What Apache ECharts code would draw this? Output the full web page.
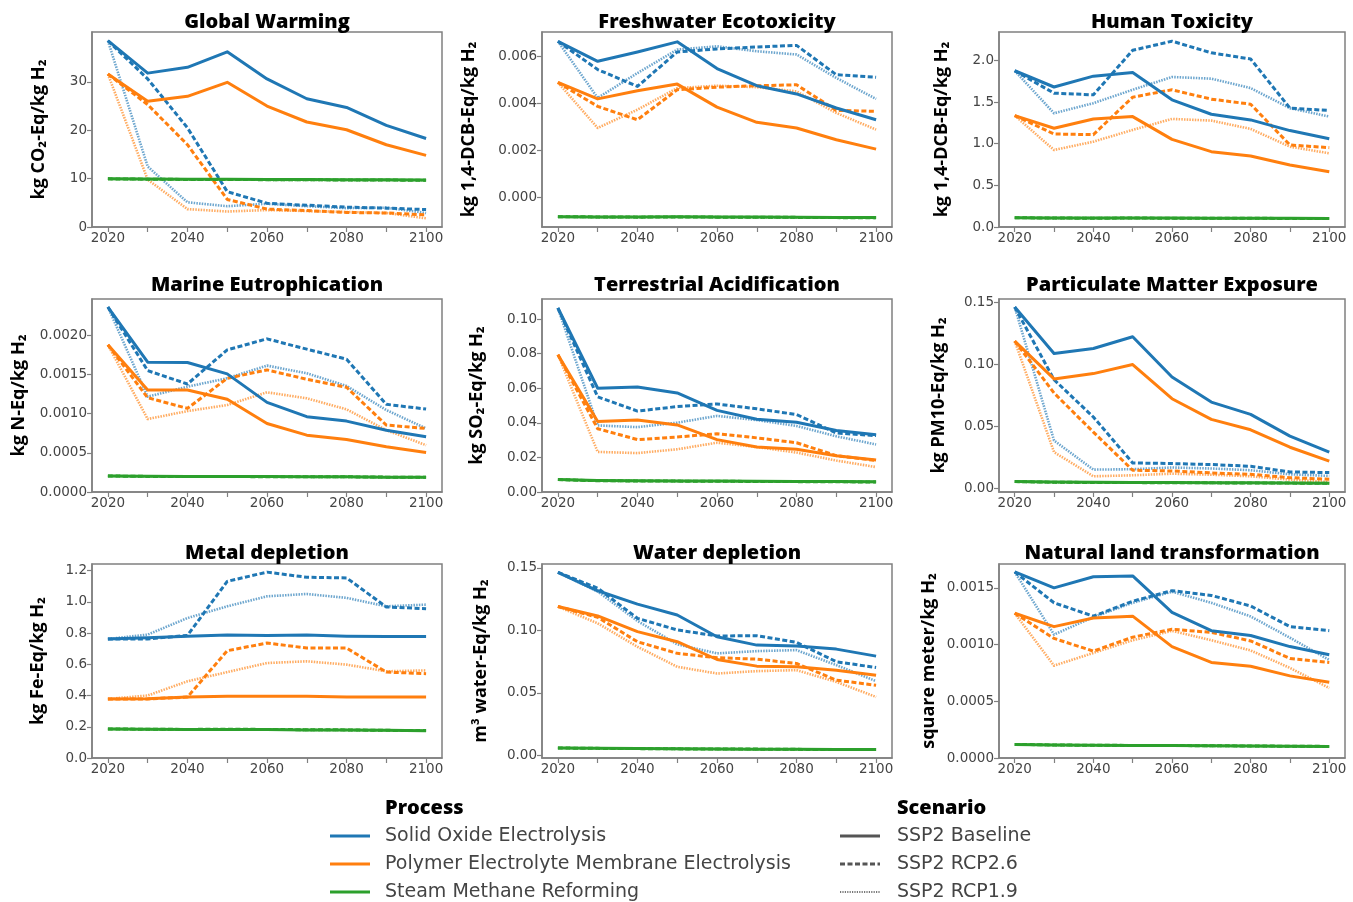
<!DOCTYPE html>
<html><head><meta charset="utf-8">
<script src="https://cdn.jsdelivr.net/npm/echarts@6/dist/echarts.min.js"></script>
<style>html,body{margin:0;padding:0;background:#fff}#c{width:1353px;height:902px}</style>
</head><body><div id="c"></div>
<script>
const years = [2020, 2030, 2040, 2050, 2060, 2070, 2080, 2090, 2100];
const xTicks = [2020, 2030, 2040, 2050, 2060, 2070, 2080, 2090, 2100];
const xLabels = [2020, 2040, 2060, 2080, 2100];
const processes = ['Solid Oxide Electrolysis', 'Polymer Electrolyte Membrane Electrolysis', 'Steam Methane Reforming'];
const scenarios = ['SSP2 Baseline', 'SSP2 RCP2.6', 'SSP2 RCP1.9'];
const titles = ['Global Warming', 'Freshwater Ecotoxicity', 'Human Toxicity', 'Marine Eutrophication', 'Terrestrial Acidification', 'Particulate Matter Exposure', 'Metal depletion', 'Water depletion', 'Natural land transformation'];
const yNames = ['kg CO₂-Eq/kg H₂', 'kg 1,4-DCB-Eq/kg H₂', 'kg 1,4-DCB-Eq/kg H₂', 'kg N-Eq/kg H₂', 'kg SO₂-Eq/kg H₂', 'kg PM10-Eq/kg H₂', 'kg Fe-Eq/kg H₂', 'm³ water-Eq/kg H₂', 'square meter/kg H₂'];

// Global Warming
const gw_SOE_base = [38.5, 31.8, 33.0, 36.2, 30.6, 26.5, 24.7, 21.0, 18.3];
const gw_SOE_r26 = [38.5, 30.6, 20.5, 7.3, 4.9, 4.5, 4.1, 3.9, 3.6];
const gw_SOE_r19 = [38.5, 12.5, 5.1, 4.3, 4.8, 4.3, 3.9, 4.0, 2.9];
const gw_PEM_base = [31.6, 26.0, 27.0, 29.9, 25.0, 21.7, 20.1, 17.0, 14.8];
const gw_PEM_r26 = [31.6, 25.3, 17.0, 5.7, 3.7, 3.4, 3.0, 2.9, 2.5];
const gw_PEM_r19 = [31.6, 9.8, 3.7, 3.2, 3.5, 3.3, 3.1, 2.9, 1.8];
const gw_SMR_base = [9.95, 9.9, 9.85, 9.85, 9.8, 9.8, 9.75, 9.75, 9.7];
const gw_SMR_r26 = [9.95, 9.88, 9.83, 9.82, 9.78, 9.76, 9.72, 9.7, 9.66];
const gw_SMR_r19 = [9.95, 9.85, 9.8, 9.78, 9.75, 9.73, 9.7, 9.68, 9.64];
// Freshwater Ecotoxicity
const fw_SOE_base = [0.00665, 0.0058, 0.0062, 0.00663, 0.00549, 0.00476, 0.00441, 0.00381, 0.00331];
const fw_SOE_r26 = [0.00665, 0.00545, 0.00473, 0.0062, 0.00633, 0.00641, 0.00648, 0.00523, 0.00512];
const fw_SOE_r19 = [0.00665, 0.00424, 0.0053, 0.0063, 0.00644, 0.00623, 0.00609, 0.00509, 0.0042];
const fw_PEM_base = [0.0049, 0.0042, 0.00455, 0.00483, 0.00385, 0.0032, 0.00296, 0.00246, 0.00206];
const fw_PEM_r26 = [0.0049, 0.00388, 0.00331, 0.00459, 0.0047, 0.00476, 0.0048, 0.00371, 0.00367];
const fw_PEM_r19 = [0.0049, 0.00296, 0.00374, 0.00466, 0.00476, 0.0047, 0.00452, 0.0036, 0.00289];
const fw_SMR_base = [-0.00082, -0.00083, -0.00083, -0.00082, -0.00083, -0.00083, -0.00084, -0.00085, -0.00086];
const fw_SMR_r26 = [-0.00082, -0.00083, -0.00084, -0.00083, -0.00084, -0.00084, -0.00085, -0.00086, -0.00087];
const fw_SMR_r19 = [-0.00082, -0.00084, -0.00084, -0.00083, -0.00084, -0.00085, -0.00085, -0.00086, -0.00087];
// Human Toxicity
const ht_SOE_base = [1.875, 1.68, 1.81, 1.855, 1.526, 1.353, 1.285, 1.157, 1.06];
const ht_SOE_r26 = [1.875, 1.606, 1.586, 2.12, 2.23, 2.09, 2.016, 1.426, 1.398];
const ht_SOE_r19 = [1.875, 1.365, 1.486, 1.647, 1.80, 1.78, 1.667, 1.426, 1.325];
const ht_PEM_base = [1.337, 1.185, 1.297, 1.325, 1.052, 0.904, 0.851, 0.743, 0.663];
const ht_PEM_r26 = [1.337, 1.116, 1.108, 1.558, 1.647, 1.534, 1.474, 0.984, 0.952];
const ht_PEM_r19 = [1.337, 0.924, 1.024, 1.165, 1.297, 1.277, 1.177, 0.964, 0.884];
const ht_SMR_base = [0.112, 0.108, 0.107, 0.108, 0.107, 0.106, 0.105, 0.104, 0.103];
const ht_SMR_r26 = [0.112, 0.107, 0.106, 0.107, 0.106, 0.105, 0.104, 0.103, 0.102];
const ht_SMR_r19 = [0.112, 0.106, 0.106, 0.106, 0.105, 0.105, 0.104, 0.103, 0.102];
// Marine Eutrophication
const me_SOE_base = [0.002363, 0.001658, 0.001654, 0.001509, 0.001145, 0.000962, 0.000906, 0.00079, 0.000705];
const me_SOE_r26 = [0.002363, 0.001551, 0.00138, 0.001816, 0.001957, 0.001825, 0.001697, 0.00112, 0.00106];
const me_SOE_r19 = [0.002363, 0.001218, 0.001346, 0.001453, 0.001615, 0.001517, 0.001355, 0.001047, 0.000812];
const me_PEM_base = [0.00188, 0.001303, 0.001303, 0.001184, 0.000876, 0.000726, 0.000671, 0.000577, 0.000504];
const me_PEM_r26 = [0.00188, 0.001205, 0.001068, 0.001453, 0.00156, 0.00144, 0.001338, 0.000855, 0.000812];
const me_PEM_r19 = [0.00188, 0.000932, 0.001034, 0.001111, 0.001274, 0.001197, 0.001056, 0.00079, 0.000598];
const me_SMR_base = [0.000205, 0.0002, 0.000198, 0.000197, 0.000197, 0.000195, 0.000195, 0.00019, 0.000188];
const me_SMR_r26 = [0.000205, 0.000199, 0.000197, 0.000197, 0.000196, 0.000195, 0.000194, 0.00019, 0.000187];
const me_SMR_r19 = [0.000205, 0.000198, 0.000197, 0.000196, 0.000196, 0.000194, 0.000193, 0.000189, 0.000187];
// Terrestrial Acidification
const ta_SOE_base = [0.1064, 0.060, 0.0607, 0.0573, 0.0472, 0.0421, 0.0403, 0.0356, 0.0331];
const ta_SOE_r26 = [0.1064, 0.055, 0.0468, 0.0494, 0.0509, 0.0481, 0.0448, 0.0341, 0.0326];
const ta_SOE_r19 = [0.1064, 0.0385, 0.0375, 0.0401, 0.044, 0.0416, 0.0382, 0.0322, 0.0275];
const ta_PEM_base = [0.0794, 0.0408, 0.0416, 0.0388, 0.0303, 0.026, 0.0247, 0.021, 0.0185];
const ta_PEM_r26 = [0.0794, 0.0366, 0.0303, 0.0318, 0.0337, 0.0313, 0.0285, 0.021, 0.0182];
const ta_PEM_r19 = [0.0794, 0.0232, 0.0225, 0.0247, 0.0285, 0.026, 0.0228, 0.0182, 0.0144];
const ta_SMR_base = [0.0072, 0.0066, 0.0065, 0.0064, 0.0063, 0.0062, 0.0061, 0.006, 0.0059];
const ta_SMR_r26 = [0.0072, 0.0065, 0.0064, 0.0063, 0.0062, 0.0061, 0.006, 0.0059, 0.0058];
const ta_SMR_r19 = [0.0072, 0.0065, 0.0064, 0.0063, 0.0062, 0.0061, 0.006, 0.0059, 0.0058];
// Particulate Matter Exposure
const pm_SOE_base = [0.1465, 0.109, 0.113, 0.1225, 0.090, 0.0697, 0.0597, 0.0422, 0.0292];
const pm_SOE_r26 = [0.1465, 0.0878, 0.0576, 0.0205, 0.020, 0.0192, 0.0178, 0.0132, 0.0127];
const pm_SOE_r19 = [0.1465, 0.0386, 0.0151, 0.0154, 0.0168, 0.016, 0.0146, 0.0113, 0.010];
const pm_PEM_base = [0.119, 0.0884, 0.0927, 0.100, 0.0724, 0.0557, 0.0473, 0.0332, 0.0219];
const pm_PEM_r26 = [0.119, 0.077, 0.0454, 0.0146, 0.014, 0.0124, 0.0113, 0.0086, 0.0073];
const pm_PEM_r19 = [0.119, 0.0292, 0.0097, 0.0105, 0.0118, 0.011, 0.0097, 0.007, 0.0051];
const pm_SMR_base = [0.0054, 0.005, 0.0048, 0.0047, 0.0046, 0.0045, 0.0044, 0.0042, 0.0041];
const pm_SMR_r26 = [0.0054, 0.0049, 0.0047, 0.0046, 0.0045, 0.0044, 0.0043, 0.0042, 0.004];
const pm_SMR_r19 = [0.0054, 0.0048, 0.0047, 0.0046, 0.0045, 0.0044, 0.0043, 0.0041, 0.004];
// Metal depletion
const md_SOE_base = [0.762, 0.77, 0.78, 0.787, 0.785, 0.787, 0.78, 0.778, 0.778];
const md_SOE_r26 = [0.762, 0.762, 0.785, 1.131, 1.19, 1.157, 1.153, 0.967, 0.956];
const md_SOE_r19 = [0.762, 0.79, 0.896, 0.971, 1.035, 1.05, 1.025, 0.971, 0.982];
const md_PEM_base = [0.378, 0.38, 0.39, 0.395, 0.395, 0.396, 0.39, 0.39, 0.39];
const md_PEM_r26 = [0.378, 0.378, 0.39, 0.687, 0.736, 0.704, 0.704, 0.55, 0.54];
const md_PEM_r19 = [0.378, 0.40, 0.491, 0.55, 0.608, 0.619, 0.598, 0.555, 0.561];
const md_SMR_base = [0.186, 0.184, 0.183, 0.183, 0.182, 0.18, 0.179, 0.177, 0.175];
const md_SMR_r26 = [0.186, 0.184, 0.183, 0.184, 0.183, 0.181, 0.18, 0.177, 0.176];
const md_SMR_r19 = [0.186, 0.183, 0.182, 0.183, 0.182, 0.18, 0.179, 0.176, 0.175];
// Water depletion
const wd_SOE_base = [0.1463, 0.1316, 0.1209, 0.1123, 0.0949, 0.0882, 0.0874, 0.085, 0.0794];
const wd_SOE_r26 = [0.1463, 0.1337, 0.1096, 0.1003, 0.0955, 0.0957, 0.0904, 0.0749, 0.0703];
const wd_SOE_r19 = [0.1463, 0.131, 0.1075, 0.0888, 0.0816, 0.0834, 0.0842, 0.0722, 0.0594];
const wd_PEM_base = [0.119, 0.1115, 0.099, 0.0909, 0.0767, 0.0714, 0.0709, 0.0682, 0.0642];
const wd_PEM_r26 = [0.119, 0.1104, 0.0909, 0.0816, 0.0781, 0.077, 0.0735, 0.0602, 0.0561];
const wd_PEM_r19 = [0.119, 0.1056, 0.0869, 0.0709, 0.0655, 0.0674, 0.0682, 0.0588, 0.0468];
const wd_SMR_base = [0.006, 0.0058, 0.0055, 0.0054, 0.0052, 0.005, 0.0049, 0.0048, 0.0047];
const wd_SMR_r26 = [0.006, 0.0057, 0.0055, 0.0053, 0.0052, 0.0051, 0.0049, 0.0048, 0.0047];
const wd_SMR_r19 = [0.006, 0.0057, 0.0054, 0.0053, 0.0051, 0.005, 0.0049, 0.0048, 0.0046];
// Natural land transformation
const nl_SOE_base = [0.00164, 0.0015, 0.001598, 0.001605, 0.001284, 0.001122, 0.00108, 0.000982, 0.00091];
const nl_SOE_r26 = [0.00164, 0.001368, 0.00125, 0.001382, 0.001475, 0.001433, 0.00134, 0.001158, 0.001122];
const nl_SOE_r19 = [0.00164, 0.001088, 0.001242, 0.001368, 0.001466, 0.001368, 0.001248, 0.00106, 0.000864];
const nl_PEM_base = [0.001276, 0.001158, 0.001234, 0.00125, 0.000982, 0.000842, 0.000808, 0.000724, 0.000668];
const nl_PEM_r26 = [0.001276, 0.001054, 0.000942, 0.001065, 0.001135, 0.001107, 0.001032, 0.000878, 0.000842];
const nl_PEM_r19 = [0.001276, 0.000814, 0.000926, 0.001038, 0.001121, 0.001038, 0.000948, 0.000794, 0.000617];
const nl_SMR_base = [0.00012, 0.000115, 0.000113, 0.000111, 0.00011, 0.000108, 0.000106, 0.000104, 0.000102];
const nl_SMR_r26 = [0.00012, 0.000115, 0.000112, 0.000111, 0.00011, 0.000108, 0.000106, 0.000104, 0.000102];
const nl_SMR_r19 = [0.00012, 0.000114, 0.000112, 0.00011, 0.000109, 0.000107, 0.000105, 0.000103, 0.000101];

// y-axis tick values and limits per panel
const yTicks = [
  [0, 10, 20, 30],
  [0, 0.002, 0.004, 0.006],
  [0, 0.5, 1.0, 1.5, 2.0],
  [0, 0.0005, 0.001, 0.0015, 0.002],
  [0, 0.02, 0.04, 0.06, 0.08, 0.10],
  [0, 0.05, 0.10, 0.15],
  [0, 0.2, 0.4, 0.6, 0.8, 1.0, 1.2],
  [0, 0.05, 0.10, 0.15],
  [0, 0.0005, 0.001, 0.0015]
];
const yDecimals = [0, 3, 1, 4, 2, 2, 1, 2, 4];
const yMin = [0, -0.00126, 0, 0, 0, -0.003, 0, -0.002, 0];
const yMax = [40.3, 0.00705, 2.34, 0.002466, 0.1116, 0.153, 1.242, 0.153, 0.00171];

const panelData = [
  [[gw_SOE_base, gw_SOE_r26, gw_SOE_r19], [gw_PEM_base, gw_PEM_r26, gw_PEM_r19], [gw_SMR_base, gw_SMR_r26, gw_SMR_r19]],
  [[fw_SOE_base, fw_SOE_r26, fw_SOE_r19], [fw_PEM_base, fw_PEM_r26, fw_PEM_r19], [fw_SMR_base, fw_SMR_r26, fw_SMR_r19]],
  [[ht_SOE_base, ht_SOE_r26, ht_SOE_r19], [ht_PEM_base, ht_PEM_r26, ht_PEM_r19], [ht_SMR_base, ht_SMR_r26, ht_SMR_r19]],
  [[me_SOE_base, me_SOE_r26, me_SOE_r19], [me_PEM_base, me_PEM_r26, me_PEM_r19], [me_SMR_base, me_SMR_r26, me_SMR_r19]],
  [[ta_SOE_base, ta_SOE_r26, ta_SOE_r19], [ta_PEM_base, ta_PEM_r26, ta_PEM_r19], [ta_SMR_base, ta_SMR_r26, ta_SMR_r19]],
  [[pm_SOE_base, pm_SOE_r26, pm_SOE_r19], [pm_PEM_base, pm_PEM_r26, pm_PEM_r19], [pm_SMR_base, pm_SMR_r26, pm_SMR_r19]],
  [[md_SOE_base, md_SOE_r26, md_SOE_r19], [md_PEM_base, md_PEM_r26, md_PEM_r19], [md_SMR_base, md_SMR_r26, md_SMR_r19]],
  [[wd_SOE_base, wd_SOE_r26, wd_SOE_r19], [wd_PEM_base, wd_PEM_r26, wd_PEM_r19], [wd_SMR_base, wd_SMR_r26, wd_SMR_r19]],
  [[nl_SOE_base, nl_SOE_r26, nl_SOE_r19], [nl_PEM_base, nl_PEM_r26, nl_PEM_r19], [nl_SMR_base, nl_SMR_r26, nl_SMR_r19]]
];

// ---- layout / style ----
const colors = ['#1f77b4', '#ff7f0e', '#2ca02c'];
const colLeft = [92, 542, 999], colWidth = [350, 350, 346];
const rowTop = [32, 299, 564], rowHeight = [195, 193, 194];
const titleTop = [12, 275, 543];
const nameGaps = [44, 64, 48, 64, 56, 51, 45, 52, 61];
const spine = '#808080';
const tickFont = { fontFamily: 'DejaVu Sans', fontSize: 13.5, color: '#444' };
const scenStyle = [
  { type: 'solid', width: 3, opacity: 1 },
  { type: [5, 2.5], width: 3, opacity: 1 },
  { type: [1.5, 1.2], width: 2.6, opacity: 0.65 }
];

const grids = [], xAxes = [], yAxes = [], titleArr = [], series = [];
for (let k = 0; k < 9; k++) {
  const r = Math.floor(k / 3), c = k % 3;
  grids.push({ left: colLeft[c], top: rowTop[r], width: colWidth[c], height: rowHeight[r],
    show: true, borderColor: spine, borderWidth: 1.5, backgroundColor: 'transparent', containLabel: false });
  titleArr.push({ text: titles[k], left: colLeft[c] + colWidth[c] / 2, top: titleTop[r], textAlign: 'center', padding: 0,
    textStyle: { fontFamily: 'Open Sans', fontWeight: 800, fontSize: 20, color: '#000' } });
  xAxes.push({ type: 'value', gridIndex: k, min: 2016, max: 2104,
    axisLine: { show: true, onZero: false, lineStyle: { color: spine, width: 1.5 } },
    axisTick: { show: true, length: 5, customValues: xTicks, lineStyle: { color: spine, width: 1.2 } },
    axisLabel: Object.assign({ customValues: xLabels, margin: 4, formatter: v => String(v) }, tickFont),
    splitLine: { show: false } });
  const dec = yDecimals[k];
  yAxes.push({ type: 'value', gridIndex: k, min: yMin[k], max: yMax[k],
    name: yNames[k], nameLocation: 'middle', nameGap: nameGaps[k], nameRotate: 90,
    nameTextStyle: { fontFamily: 'Open Sans', fontWeight: 'bold', fontSize: 18, color: '#000' },
    axisLine: { show: true, onZero: false, lineStyle: { color: spine, width: 1.5 } },
    axisTick: { show: true, length: 5, customValues: yTicks[k], lineStyle: { color: spine, width: 1.2 } },
    axisLabel: Object.assign({ customValues: yTicks[k], margin: 5, formatter: v => Number(v).toFixed(dec) }, tickFont),
    splitLine: { show: false } });
  for (let p = 0; p < 3; p++) {
    for (let s = 2; s >= 0; s--) {
      series.push({ type: 'line', name: processes[p] + ' / ' + scenarios[s], xAxisIndex: k, yAxisIndex: k,
        data: panelData[k][p][s].map((v, i) => [years[i], v]),
        symbol: 'none', showSymbol: false, silent: true, animation: false, clip: true,
        z: 2 + (2 - s),
        lineStyle: { color: colors[p], width: scenStyle[s].width, type: scenStyle[s].type, opacity: scenStyle[s].opacity, cap: 'butt', join: 'round' } });
    }
  }
}

// legend drawn as graphic elements
const graphics = [
  { type: 'text', left: 385, top: 798, style: { text: 'Process', font: '800 20px "Open Sans"', fill: '#000' } },
  { type: 'text', left: 897, top: 798, style: { text: 'Scenario', font: '800 20px "Open Sans"', fill: '#000' } }
];
const legY = [836, 864, 892];
for (let i = 0; i < 3; i++) {
  graphics.push({ type: 'line', shape: { x1: 330, y1: legY[i], x2: 370, y2: legY[i] }, style: { stroke: colors[i], lineWidth: 3 } });
  graphics.push({ type: 'text', x: 385, y: legY[i], style: { text: processes[i], textVerticalAlign: 'middle', font: '19px "DejaVu Sans"', fill: '#444' } });
  graphics.push({ type: 'line', shape: { x1: 840, y1: legY[i], x2: 880, y2: legY[i] },
    style: { stroke: '#555', lineWidth: i === 2 ? 2.2 : 3, lineDash: i === 0 ? null : (i === 1 ? [5, 2.5] : [1.2, 1.2]), opacity: i === 2 ? 0.8 : 1 } });
  graphics.push({ type: 'text', x: 897, y: legY[i], style: { text: scenarios[i], textVerticalAlign: 'middle', font: '19px "DejaVu Sans"', fill: '#444' } });
}

const chart = echarts.init(document.getElementById('c'), null, { renderer: 'canvas' });
chart.setOption({
  backgroundColor: '#fff', animation: false,
  title: titleArr, grid: grids, xAxis: xAxes, yAxis: yAxes, series: series, graphic: graphics
});
</script></body></html>
